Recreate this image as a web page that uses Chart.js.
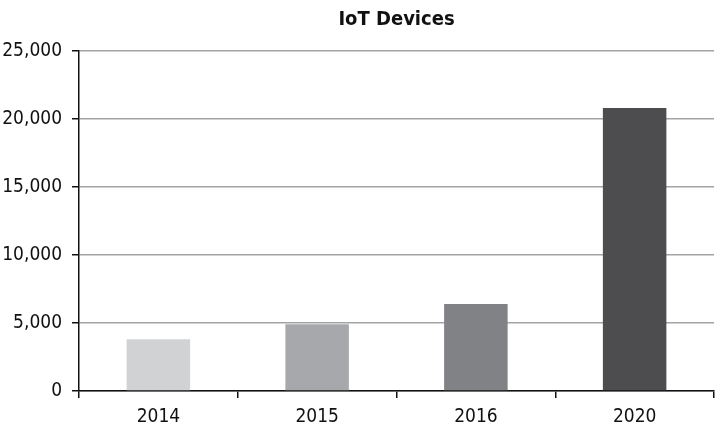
<!DOCTYPE html>
<html>
<head>
<meta charset="utf-8">
<script src="https://cdn.jsdelivr.net/npm/chart.js@4/dist/chart.umd.min.js"></script>
<style>
  html, body { margin: 0; padding: 0; background: #fff; }
  #wrap { width: 716px; height: 427px; }
</style>
</head>
<body>
<div id="wrap"><canvas id="iot"></canvas></div>
<script>
var years = ["2014", "2015", "2016", "2020"];
var devices = [3800, 4900, 6400, 20800];
var barColors = ["#d1d2d4", "#a7a8ab", "#808285", "#4d4d4f"];
var chartTitle = "IoT Devices";

var narrow = "'DejaVu Sans Condensed', 'Liberation Sans Narrow', sans-serif";

// title centred over the plot area, not the whole canvas
var centredTitle = {
  id: "centredTitle",
  afterDraw: function (chart) {
    var c = chart.ctx, a = chart.chartArea;
    c.save();
    c.font = "bold 20px " + narrow;
    c.fillStyle = "#111";
    c.textAlign = "center";
    c.textBaseline = "middle";
    c.fillText(chartTitle, (a.left + a.right) / 2, 20);
    c.restore();
  }
};

var ctx = document.getElementById("iot");
var iotChart = new Chart(ctx, {
  type: "bar",
  data: {
    labels: years,
    datasets: [{
      label: chartTitle,
      data: devices,
      backgroundColor: barColors,
      barPercentage: 0.4,
      categoryPercentage: 1.0
    }]
  },
  plugins: [centredTitle],
  options: {
    responsive: true,
    maintainAspectRatio: false,
    animation: false,
    layout: { padding: { top: 51, right: 2, left: 0, bottom: 0 } },
    plugins: {
      legend: { display: false },
      title: { display: false },
      tooltip: { enabled: false }
    },
    scales: {
      x: {
        border: { color: "#111", width: 1.5 },
        grid: { drawOnChartArea: false, offset: true, tickLength: 7, tickColor: "#111", lineWidth: 1.5 },
        ticks: { color: "#111", padding: 8, font: { family: narrow, size: 19 } },
        afterFit: function (s) { s.height = 36; }
      },
      y: {
        min: 0,
        max: 25000,
        border: { color: "#111", width: 1.5 },
        grid: { color: "#a3a3a3", lineWidth: 1.5, tickLength: 7, tickColor: "#111" },
        ticks: {
          stepSize: 5000,
          color: "#111",
          padding: 10,
          font: { family: narrow, size: 19 },
          callback: function (v) { return v.toLocaleString("en-US"); }
        },
        afterFit: function (s) { s.width = 79; }
      }
    }
  }
});
</script>
</body>
</html>
